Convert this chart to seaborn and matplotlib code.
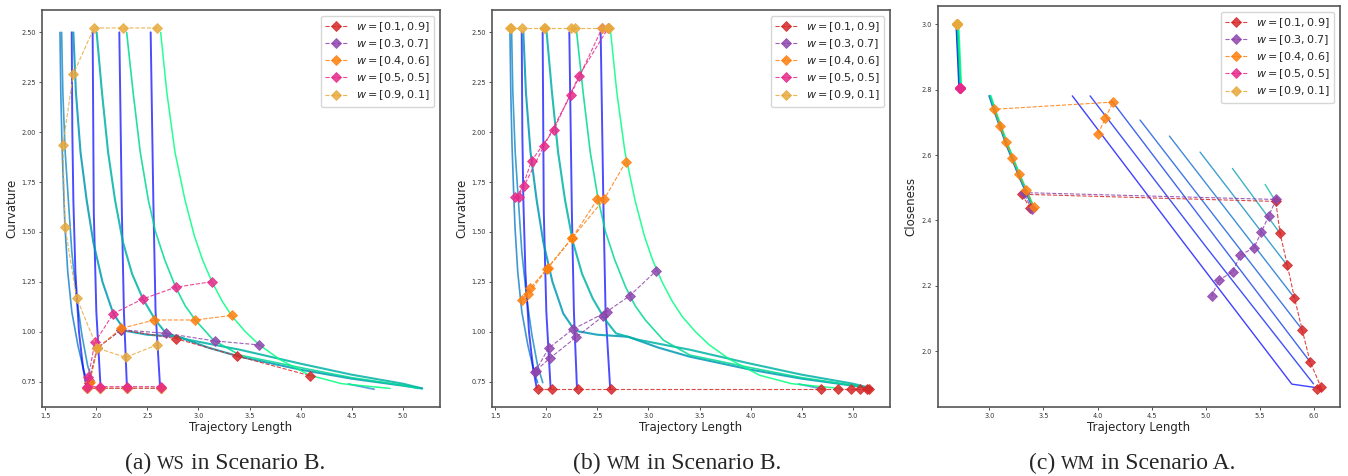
import matplotlib
matplotlib.use("Agg")
import matplotlib.pyplot as plt
import seaborn as sns

# ---------------- data ----------------
legend_labels = [r"$w = [0.1, 0.9]$", r"$w = [0.3, 0.7]$", r"$w = [0.4, 0.6]$",
                 r"$w = [0.5, 0.5]$", r"$w = [0.9, 0.1]$"]

# (a) WS in Scenario B
wsB_red_x = [2.630, 2.303, 2.039, 1.905, 1.930, 2.010, 2.241, 2.777, 3.374, 4.089]
wsB_red_y = [0.716, 0.716, 0.716, 0.716, 0.745, 0.918, 1.010, 0.966, 0.879, 0.780]
wsB_purple_x = [2.630, 2.303, 2.039, 1.905, 1.930, 2.010, 2.245, 2.682, 3.158, 3.596]
wsB_purple_y = [0.716, 0.716, 0.716, 0.716, 0.760, 0.920, 1.010, 0.992, 0.954, 0.934]
wsB_orange_x = [2.630, 2.303, 2.039, 1.905, 1.937, 2.010, 2.244, 2.568, 2.969, 3.332]
wsB_orange_y = [0.718, 0.718, 0.718, 0.718, 0.750, 0.918, 1.017, 1.059, 1.059, 1.082]
wsB_pink_x = [2.630, 2.303, 2.039, 1.905, 1.921, 1.986, 2.166, 2.453, 2.777, 3.132]
wsB_pink_y = [0.725, 0.725, 0.725, 0.725, 0.772, 0.947, 1.091, 1.164, 1.223, 1.251]
wsB_yellow_x = [2.594, 2.264, 1.977, 1.774, 1.673, 1.693, 1.807, 2.009, 2.287, 2.597]
wsB_yellow_y = [2.522, 2.522, 2.522, 2.291, 1.936, 1.526, 1.170, 0.918, 0.872, 0.935]

# (b) WM in Scenario B
wmB_red_x = [1.921, 2.056, 2.314, 2.638, 4.693, 4.858, 4.984, 5.070, 5.137, 5.162]
wmB_red_y = [0.712, 0.712, 0.712, 0.712, 0.712, 0.712, 0.712, 0.712, 0.712, 0.712]
wmB_purple_x = [2.558, 2.290, 2.036, 1.885, 1.896, 2.023, 2.258, 2.591, 2.816, 3.077]
wmB_purple_y = [1.079, 0.972, 0.868, 0.800, 0.805, 0.918, 1.012, 1.100, 1.180, 1.306]
wmB_orange_x = [2.499, 2.255, 2.012, 1.817, 1.764, 1.840, 2.003, 2.250, 2.565, 2.777]
wmB_orange_y = [1.663, 1.472, 1.318, 1.187, 1.160, 1.217, 1.313, 1.468, 1.663, 1.850]
wmB_pink_x = [1.693, 1.784, 1.977, 2.238, 2.547, 2.606, 2.320, 2.072, 1.856, 1.732]
wmB_pink_y = [1.673, 1.732, 1.932, 2.186, 2.522, 2.522, 2.283, 2.011, 1.857, 1.673]
wmB_yellow_x = [1.644, 1.650, 1.764, 1.977, 1.985, 2.238, 2.277, 2.547, 2.606, 2.610]
wmB_yellow_y = [2.522, 2.522, 2.522, 2.522, 2.522, 2.522, 2.522, 2.522, 2.522, 2.522]

# (c) WM in Scenario A
wmA_red_x = [3.376, 3.302, 5.646, 5.687, 5.754, 5.819, 5.890, 5.964, 6.063, 6.026]
wmA_red_y = [2.437, 2.480, 2.458, 2.360, 2.262, 2.163, 2.066, 1.967, 1.891, 1.883]
wmA_purple_x = [3.391, 3.317, 5.650, 5.582, 5.514, 5.446, 5.317, 5.250, 5.120, 5.055]
wmA_purple_y = [2.434, 2.485, 2.464, 2.414, 2.365, 2.317, 2.293, 2.243, 2.217, 2.168]
wmA_orange_x = [4.004, 4.072, 4.143, 3.046, 3.099, 3.154, 3.213, 3.271, 3.342, 3.410]
wmA_orange_y = [2.664, 2.713, 2.762, 2.740, 2.689, 2.639, 2.591, 2.541, 2.493, 2.442]
wmA_pink_x = [2.729, 2.729, 2.729, 2.729, 2.729, 2.729, 2.729, 2.729, 2.729, 2.729]
wmA_pink_y = [2.804, 2.804, 2.804, 2.804, 2.804, 2.804, 2.804, 2.804, 2.804, 2.804]
wmA_yellow_x = [2.701, 2.701, 2.701, 2.701, 2.701, 2.701, 2.701, 2.701, 2.701, 2.701]
wmA_yellow_y = [3.000, 3.000, 3.000, 3.000, 3.000, 3.000, 3.000, 3.000, 3.000, 3.000]

# background fronts, Scenario B
frontB_c0 = [(1.644, 2.50), (1.652, 2.20), (1.664, 1.936), (1.680, 1.70), (1.693, 1.526),
             (1.720, 1.30), (1.760, 1.10), (1.820, 0.93), (1.880, 0.80), (1.915, 0.745)]
frontB_c0_tail = [(4.470, 0.738), (4.720, 0.712)]
frontB_c1 = [(1.660, 2.50), (1.672, 2.20), (1.695, 1.90), (1.726, 1.66), (1.760, 1.40),
             (1.807, 1.170), (1.860, 0.98), (1.915, 0.83), (1.965, 0.745)]
frontB_v1 = [(1.759, 2.50), (1.765, 2.00), (1.775, 1.66), (1.795, 1.30), (1.830, 1.00),
             (1.870, 0.82), (1.905, 0.72)]
frontB_v2 = [(1.964, 2.50), (1.975, 1.60), (2.000, 1.10), (2.042, 0.716)]
frontB_v3 = [(2.225, 2.50), (2.250, 1.60), (2.270, 1.10), (2.300, 0.716)]
frontB_v4 = [(2.532, 2.50), (2.558, 1.66), (2.580, 1.10), (2.625, 0.716)]
frontB_t1 = [(1.775, 2.50), (1.800, 2.20), (1.845, 1.90), (1.905, 1.66), (1.970, 1.45),
             (2.060, 1.25), (2.166, 1.091), (2.280, 1.005), (2.500, 0.985), (2.800, 0.975),
             (3.100, 0.920), (3.405, 0.875), (4.000, 0.810), (4.500, 0.765), (5.000, 0.730),
             (5.190, 0.716)]
frontB_t2 = [(2.003, 2.50), (2.055, 2.20), (2.115, 1.90), (2.183, 1.66), (2.260, 1.45),
             (2.350, 1.29), (2.454, 1.167), (2.574, 1.062), (2.682, 0.992), (2.900, 0.960),
             (3.150, 0.935), (3.405, 0.910), (4.000, 0.840), (4.500, 0.785), (5.000, 0.740),
             (5.190, 0.716)]
frontB_t3 = [(2.297, 2.50), (2.360, 2.20), (2.430, 1.90), (2.509, 1.66), (2.580, 1.50),
             (2.670, 1.36), (2.777, 1.223), (2.870, 1.13), (2.969, 1.059), (3.146, 0.958),
             (3.405, 0.883), (4.000, 0.820), (4.500, 0.770), (5.000, 0.732), (5.150, 0.716)]
frontB_t4 = [(2.630, 2.50), (2.690, 2.20), (2.770, 1.90), (2.868, 1.66), (2.960, 1.48),
             (3.040, 1.36), (3.132, 1.251), (3.230, 1.155), (3.332, 1.075), (3.460, 1.000),
             (3.596, 0.934), (3.800, 0.860), (4.089, 0.782), (4.400, 0.740), (4.876, 0.716)]
frontB_curves = [frontB_c0, frontB_c0_tail, frontB_c1, frontB_v1, frontB_v2, frontB_v3,
                 frontB_v4, frontB_t1, frontB_t2, frontB_t3, frontB_t4]

# background fronts, Scenario A
frontA_top_1 = [(2.698, 3.000), (2.712, 2.900), (2.725, 2.802)]
frontA_top_2 = [(2.705, 3.000), (2.719, 2.900), (2.732, 2.802)]
frontA_top_3 = [(2.712, 3.000), (2.726, 2.900), (2.739, 2.802)]
frontA_mid_1 = [(3.000, 2.781), (3.046, 2.735), (3.154, 2.635), (3.271, 2.538), (3.400, 2.440)]
frontA_mid_2 = [(3.006, 2.781), (3.052, 2.735), (3.160, 2.635), (3.277, 2.538), (3.406, 2.440)]
frontA_mid_3 = [(3.012, 2.781), (3.058, 2.735), (3.166, 2.635), (3.283, 2.538), (3.412, 2.440)]
frontA_l1 = [(3.767, 2.781), (4.800, 2.330), (5.795, 1.899), (6.026, 1.888)]
frontA_l2 = [(3.931, 2.781), (5.000, 2.320), (5.995, 1.900)]
frontA_l3 = [(4.131, 2.766), (5.964, 1.967)]
frontA_l4 = [(4.393, 2.707), (5.890, 2.066)]
frontA_l5 = [(4.664, 2.658), (5.819, 2.163)]
frontA_l6 = [(4.947, 2.609), (5.754, 2.262)]
frontA_l7 = [(5.246, 2.559), (5.687, 2.360)]
frontA_l8 = [(5.548, 2.510), (5.646, 2.458)]
frontA_curves = [frontA_top_1, frontA_top_2, frontA_top_3, frontA_mid_1, frontA_mid_2,
                 frontA_mid_3, frontA_l1, frontA_l2, frontA_l3, frontA_l4, frontA_l5,
                 frontA_l6, frontA_l7, frontA_l8]

xticks_B = [1.5, 2.0, 2.5, 3.0, 3.5, 4.0, 4.5, 5.0]
yticks_B = [0.75, 1.00, 1.25, 1.50, 1.75, 2.00, 2.25, 2.50]
xticks_A = [3.0, 3.5, 4.0, 4.5, 5.0, 5.5, 6.0]
yticks_A = [2.0, 2.2, 2.4, 2.6, 2.8, 3.0]

# ---------------- style ----------------
series_colors = ["#d62728", "#8e44ad", "#ff7f0e", "#e7298a", "#e8a93c"]
# (tone in 'winter' colormap, line width, alpha) per background curve
frontB_style = [(0.45, 1.2, 0.75), (0.45, 1.3, 0.65), (0.50, 1.2, 0.75), (0.0, 1.4, 0.7),
                (0.0, 1.4, 0.7), (0.0, 1.4, 0.7), (0.0, 1.4, 0.7), (0.60, 1.5, 0.85),
                (0.70, 1.5, 0.85), (0.85, 1.2, 0.85), (1.0, 1.1, 0.85)]
frontA_style = [(0.0, 1.8, 0.85), (0.5, 1.8, 0.85), (1.0, 1.8, 0.85),
                (0.3, 1.5, 0.8), (0.65, 1.5, 0.8), (0.95, 1.5, 0.8),
                (0.0, 1.0, 0.75), (0.1, 1.0, 0.75), (0.2, 1.0, 0.75), (0.3, 1.0, 0.75),
                (0.4, 1.0, 0.75), (0.5, 1.0, 0.75), (0.6, 1.0, 0.75), (0.7, 1.0, 0.75)]
W, H = 1348, 476

sns.set_theme(style="ticks")
plt.rcParams["font.family"] = ["DejaVu Sans"]

fig = plt.figure(figsize=(W / 100, H / 100), dpi=100)


def px_axes(l, t, r, b):
    return fig.add_axes([l / W, 1 - b / H, (r - l) / W, (b - t) / H])


ax_a = px_axes(42, 10, 440, 407)
ax_b = px_axes(492, 10, 890, 407)
ax_c = px_axes(938, 6, 1340, 407)

cmap = plt.get_cmap("winter")


def draw_fronts(ax, curves, styles):
    for pts, (t, lw, a) in zip(curves, styles):
        xs = [p[0] for p in pts]
        ys = [p[1] for p in pts]
        sns.lineplot(x=xs, y=ys, ax=ax, sort=False, estimator=None, color=cmap(t),
                     lw=lw, alpha=a, legend=False)


def draw_series(ax, xs_list, ys_list):
    for xs, ys, c, lab in zip(xs_list, ys_list, series_colors, legend_labels):
        sns.lineplot(x=xs, y=ys, ax=ax, sort=False, estimator=None, color=c,
                     linestyle="--", lw=0.8, marker="D", markersize=5.5,
                     markeredgecolor=c, markeredgewidth=0.6, alpha=0.85, label=lab)
    handles, labels = ax.get_legend_handles_labels()
    keep = [(h, l) for h, l in zip(handles, labels) if l in legend_labels]
    ax.legend([h for h, _ in keep], [l for _, l in keep], loc="upper right",
              fontsize=8, labelspacing=0.3, frameon=True, framealpha=0.8,
              edgecolor="#cccccc")


draw_fronts(ax_a, frontB_curves, frontB_style)
draw_series(ax_a, [wsB_red_x, wsB_purple_x, wsB_orange_x, wsB_pink_x, wsB_yellow_x],
            [wsB_red_y, wsB_purple_y, wsB_orange_y, wsB_pink_y, wsB_yellow_y])
draw_fronts(ax_b, frontB_curves, frontB_style)
draw_series(ax_b, [wmB_red_x, wmB_purple_x, wmB_orange_x, wmB_pink_x, wmB_yellow_x],
            [wmB_red_y, wmB_purple_y, wmB_orange_y, wmB_pink_y, wmB_yellow_y])
draw_fronts(ax_c, frontA_curves, frontA_style)
draw_series(ax_c, [wmA_red_x, wmA_purple_x, wmA_orange_x, wmA_pink_x, wmA_yellow_x],
            [wmA_red_y, wmA_purple_y, wmA_orange_y, wmA_pink_y, wmA_yellow_y])

for ax, ylab in [(ax_a, "Curvature"), (ax_b, "Curvature")]:
    ax.set_xlim(1.468, 5.365)
    ax.set_ylim(0.623, 2.612)
    ax.set_xticks(xticks_B)
    ax.set_xticklabels([f"{v:.1f}" for v in xticks_B])
    ax.set_yticks(yticks_B)
    ax.set_yticklabels([f"{v:.2f}" for v in yticks_B])
    ax.set_ylabel(ylab, fontsize=8.5, labelpad=2)

ax_c.set_xlim(2.526, 6.24)
ax_c.set_ylim(1.829, 3.056)
ax_c.set_xticks(xticks_A)
ax_c.set_xticklabels([f"{v:.1f}" for v in xticks_A])
ax_c.set_yticks(yticks_A)
ax_c.set_yticklabels([f"{v:.1f}" for v in yticks_A])
ax_c.set_ylabel("Closeness", fontsize=8.5, labelpad=3)

for ax in (ax_a, ax_b, ax_c):
    ax.set_xlabel("Trajectory Length", fontsize=8.5, labelpad=1)
    ax.tick_params(axis="both", labelsize=4.7, length=2.5, width=0.6, pad=2, colors="#333333")
    for sp in ax.spines.values():
        sp.set_color("#555555")
        sp.set_linewidth(1.2)

# ---------------- captions ----------------
fig.canvas.draw()
renderer = fig.canvas.get_renderer()
serif = "Liberation Serif"
cap_size = 17
sc_size = 13.3


def text_width(s, size):
    t = fig.text(0, 0, s, fontsize=size, family=serif)
    w = t.get_window_extent(renderer).width
    t.remove()
    return w


space_w = text_width("a a", cap_size) - text_width("aa", cap_size)


def caption(cx, pieces):
    widths = [text_width(s, sz) for s, sz in pieces]
    total = sum(widths) + space_w * (len(pieces) - 1)
    x = cx - total / 2
    for (s, sz), w in zip(pieces, widths):
        fig.text(x / W, 7.0 / H, s, fontsize=sz, family=serif, va="baseline", ha="left")
        x += w + space_w


caption(225, [("(a)", cap_size), ("WS", sc_size), ("in Scenario B.", cap_size)])
caption(677, [("(b)", cap_size), ("WM", sc_size), ("in Scenario B.", cap_size)])
caption(1132, [("(c)", cap_size), ("WM", sc_size), ("in Scenario A.", cap_size)])

fig.savefig("out.png", dpi=100)
